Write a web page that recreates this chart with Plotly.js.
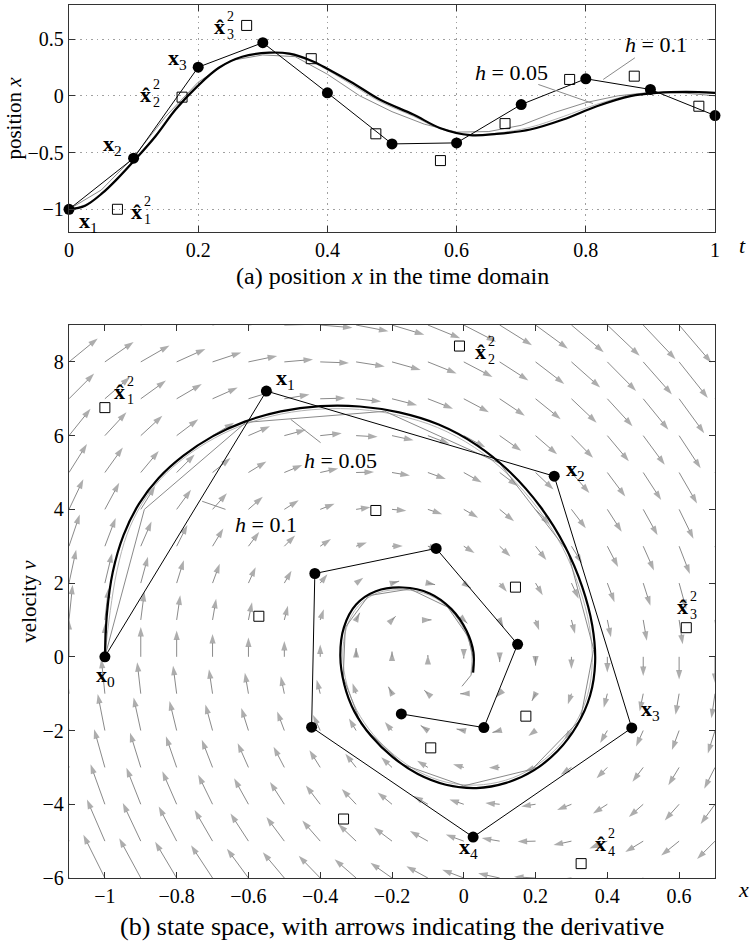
<!DOCTYPE html>
<html>
<head>
<meta charset="utf-8">
<script src="https://cdn.plot.ly/plotly-3.0.1.min.js"></script>
<style>
html, body { margin: 0; padding: 0; background: #fff; }
#chart { width: 750px; height: 944px; }
</style>
</head>
<body>
<div id="chart"></div>
<script>
// ---- coarse solution, step h = 0.1 (filled circles) ----
const tCoarse = [0, 0.1, 0.2, 0.3, 0.4, 0.5, 0.6, 0.7, 0.8, 0.9, 1.0];
const xCoarse = [-1.0, -0.55, 0.252, 0.468, 0.026, -0.424, -0.415, -0.077, 0.150, 0.056, -0.174];
const vCoarse = [0.0, 7.21, 4.90, -1.93, -4.89, -1.91, 2.26, 2.94, 0.34, -1.92, -1.55];

// ---- stage values x̂² (open squares) ----
const tStage = [0.075, 0.175, 0.275, 0.375, 0.475, 0.575, 0.675, 0.775, 0.875, 0.975];
const xStage = [-1.0, -0.012, 0.62, 0.327, -0.335, -0.571, -0.245, 0.144, 0.173, -0.092];
const vStage = [6.76, 8.43, 0.79, -5.61, -4.40, 1.10, 3.97, 1.89, -1.61, -2.47];

// ---- exact trajectory (thick black) ----
const tExact = [0, 0.025, 0.052, 0.075, 0.1, 0.134, 0.165, 0.199, 0.232, 0.268, 0.31, 0.341, 0.377, 0.402, 0.44,
                0.481, 0.533, 0.574, 0.621, 0.662, 0.714, 0.765, 0.817, 0.869, 0.91, 0.956, 1.0];
const xExact = [-1.0, -0.968, -0.856, -0.73, -0.577, -0.356, -0.121, 0.085, 0.247, 0.344, 0.38, 0.371, 0.305, 0.232, 0.11,
                -0.033, -0.165, -0.283, -0.347, -0.336, -0.297, -0.209, -0.092, -0.003, 0.026, 0.035, 0.026];
const xExactState = [-1.0, -0.994, -0.978, -0.948, -0.905, -0.850, -0.782, -0.700, -0.610, -0.510, -0.400, -0.290,
                     -0.180, -0.070, 0.035, 0.130, 0.215, 0.282, 0.330, 0.358, 0.366, 0.352, 0.316, 0.262, 0.195,
                     0.118, 0.035, -0.050, -0.128, -0.198, -0.258, -0.305, -0.333, -0.344, -0.334, -0.300,
                     -0.245, -0.170, -0.095, -0.035, 0.008, 0.027, 0.026];
const vExactState = [0.0, 1.2, 2.3, 3.3, 4.15, 4.85, 5.45, 5.98, 6.38, 6.66, 6.80, 6.79,
                     6.63, 6.30, 5.75, 5.00, 4.05, 3.00, 1.90, 0.85, -0.15, -1.05, -1.85, -2.55, -3.08,
                     -3.42, -3.56, -3.47, -3.18, -2.72, -2.15, -1.48, -0.75, 0.02, 0.80, 1.42,
                     1.78, 1.88, 1.72, 1.30, 0.70, 0.12, -0.43];

// ---- finer solution, step h = 0.05 (grey polyline) ----
const tFine = [0, 0.05, 0.1, 0.15, 0.2, 0.25, 0.3, 0.35, 0.4, 0.45, 0.5, 0.55, 0.6, 0.65, 0.7, 0.75, 0.8, 0.85, 0.9, 0.95, 1.0];
const xFine = [-1.0, -0.83, -0.54, -0.18, 0.12, 0.31, 0.36, 0.345, 0.19, 0.0, -0.14, -0.25, -0.32, -0.315, -0.26, -0.15,
               -0.06, 0.0, 0.03, 0.025, 0.0];
const xFineState = [-1.0, -0.89, -0.607, -0.22, 0.10, 0.29, 0.362, 0.325, 0.19, 0.0, -0.17, -0.285, -0.336, -0.33,
                    -0.265, -0.15, -0.045, 0.012, 0.028, 0.02, -0.005];
const vFineState = [0.0, 4.0, 6.36, 6.66, 5.25, 2.85, 0.2, -1.70, -3.05, -3.50, -2.92, -1.85, -0.55, 0.80, 1.66,
                    1.84, 1.35, 0.55, -0.1, -0.5, -0.8];

// ---- continuous interpolant (light grey) ----
const xInterp = [-1.0, -0.96, -0.85, -0.72, -0.565, -0.345, -0.11, 0.09, 0.25, 0.345, 0.375, 0.365, 0.295, 0.22, 0.09,
                 -0.05, -0.18, -0.29, -0.345, -0.33, -0.277, -0.183, -0.075, 0.005, 0.03, 0.033, 0.02];
const xInterpState = [-1.0, -0.985, -0.966, -0.938, -0.897, -0.843, -0.776, -0.695, -0.606, -0.507, -0.398, -0.290,
                      -0.182, -0.073, 0.030, 0.124, 0.208, 0.275, 0.322, 0.350, 0.358, 0.345, 0.310, 0.257, 0.191,
                      0.116, 0.034, -0.049, -0.125, -0.193, -0.252, -0.298, -0.326, -0.337, -0.327, -0.294,
                      -0.241, -0.168, -0.095, -0.037, 0.004, 0.022, 0.02];
const vInterpState = [0.0, 1.25, 2.35, 3.33, 4.15, 4.84, 5.42, 5.93, 6.32, 6.59, 6.72, 6.71,
                      6.55, 6.22, 5.68, 4.94, 4.00, 2.97, 1.88, 0.84, -0.15, -1.03, -1.82, -2.50, -3.02,
                      -3.35, -3.48, -3.40, -3.12, -2.67, -2.11, -1.45, -0.74, 0.02, 0.78, 1.38,
                      1.73, 1.82, 1.67, 1.27, 0.68, 0.11, -0.45];

// ---- derivative field of the damped spring, sampled on a grid ----
const xGrid = [-1.1, -1.0, -0.9, -0.8, -0.7, -0.6, -0.5, -0.4, -0.3, -0.2, -0.1, 0, 0.1, 0.2, 0.3, 0.4, 0.5, 0.6, 0.7];
const vGrid = [-6, -5, -4, -3, -2, -1, 0, 1, 2, 3, 4, 5, 6, 7, 8, 9];
const STIFFNESS = 95;     // spring constant
const DAMPING = 4.5;      // damping coefficient
const REST = -0.05;       // rest position
const ARROW_DT = 0.01;    // arrow length = derivative * ARROW_DT

function derivative(x, v) {
  return [v, -STIFFNESS * (x - REST) - DAMPING * v];
}

const arrowX = [], arrowY = [], arrowSize = [];
xGrid.forEach(function (x) {
  vGrid.forEach(function (v) {
    const d = derivative(x, v);
    arrowX.push(x, x + ARROW_DT * d[0], null);
    arrowY.push(v, v + ARROW_DT * d[1], null);
    arrowSize.push(0, 10, 0);
  });
});

const BLACK = '#000';
const GREY = '#8a8a8a';
const LIGHT = '#b4b4b4';
const FONT = 'Liberation Serif, serif';

const traces = [
  // --- (a) time domain ---
  { x: tExact, y: xInterp, xaxis: 'x', yaxis: 'y', mode: 'lines',
    line: { color: LIGHT, width: 1, shape: 'spline' }, hoverinfo: 'skip' },
  { x: tFine, y: xFine, xaxis: 'x', yaxis: 'y', mode: 'lines',
    line: { color: GREY, width: 1 }, hoverinfo: 'skip' },
  { x: tExact, y: xExact, xaxis: 'x', yaxis: 'y', mode: 'lines',
    line: { color: BLACK, width: 2.2, shape: 'spline' } },
  { x: tCoarse, y: xCoarse, xaxis: 'x', yaxis: 'y', mode: 'lines+markers', cliponaxis: false,
    line: { color: BLACK, width: 1 }, marker: { color: BLACK, size: 11 } },
  { x: tStage, y: xStage, xaxis: 'x', yaxis: 'y', mode: 'markers', cliponaxis: false,
    marker: { symbol: 'square-open', color: BLACK, size: 10, line: { width: 1 } } },

  // --- (b) state space ---
  { x: arrowX, y: arrowY, xaxis: 'x2', yaxis: 'y2', mode: 'lines+markers',
    line: { color: GREY, width: 1 },
    marker: { symbol: 'arrow', angleref: 'previous', size: arrowSize, color: GREY, line: { width: 0 } },
    hoverinfo: 'skip' },
  { x: xInterpState, y: vInterpState, xaxis: 'x2', yaxis: 'y2', mode: 'lines',
    line: { color: LIGHT, width: 1, shape: 'spline' }, hoverinfo: 'skip' },
  { x: xFineState, y: vFineState, xaxis: 'x2', yaxis: 'y2', mode: 'lines',
    line: { color: GREY, width: 1 }, hoverinfo: 'skip' },
  { x: xExactState, y: vExactState, xaxis: 'x2', yaxis: 'y2', mode: 'lines',
    line: { color: BLACK, width: 2.2, shape: 'spline' } },
  { x: xCoarse, y: vCoarse, xaxis: 'x2', yaxis: 'y2', mode: 'lines+markers', cliponaxis: false,
    line: { color: BLACK, width: 1 }, marker: { color: BLACK, size: 11 } },
  { x: xStage, y: vStage, xaxis: 'x2', yaxis: 'y2', mode: 'markers', cliponaxis: false,
    marker: { symbol: 'square-open', color: BLACK, size: 10, line: { width: 1 } } }
];

// point labels
const annotations = [];
function plainLabel(xr, yr, x, y, idx) {
  annotations.push({ xref: xr, yref: yr, x: x, y: y, xanchor: 'left', yanchor: 'middle',
    text: '<b>x</b><sub>' + idx + '</sub>', showarrow: false, font: { family: FONT, size: 22 } });
}
function hatLabel(xr, yr, x, y, idx) {
  annotations.push({ xref: xr, yref: yr, x: x, y: y, xanchor: 'left', yanchor: 'middle',
    text: '<b>x\u0302</b>', showarrow: false, font: { family: FONT, size: 22 } });
  annotations.push({ xref: xr, yref: yr, x: x, y: y, xanchor: 'left', yanchor: 'middle', xshift: 13, yshift: 1,
    text: '2<br>' + idx, align: 'left', showarrow: false, font: { family: FONT, size: 14 } });
}
plainLabel('x', 'y', 0.0128, -1.115, 1);
hatLabel('x', 'y', 0.093, -1.018, 1);
plainLabel('x', 'y', 0.050, -0.43, 2);
hatLabel('x', 'y', 0.107, 0.011, 2);
plainLabel('x', 'y', 0.150, 0.32, 3);
hatLabel('x', 'y', 0.221, 0.614, 3);

plainLabel('x2', 'y2', -1.031, -0.53, 0);
plainLabel('x2', 'y2', -0.530, 7.53, 1);
plainLabel('x2', 'y2', 0.279, 5.08, 2);
plainLabel('x2', 'y2', 0.488, -1.43, 3);
plainLabel('x2', 'y2', -0.020, -5.18, 4);
hatLabel('x2', 'y2', -0.979, 7.20, 1);
hatLabel('x2', 'y2', 0.025, 8.29, 2);
hatLabel('x2', 'y2', 0.588, 1.37, 3);
hatLabel('x2', 'y2', 0.36, -5.07, 4);

// step-size labels
function stepLabel(xr, yr, x, y, txt) {
  annotations.push({ xref: xr, yref: yr, x: x, y: y, xanchor: 'center', yanchor: 'middle',
    text: '<i>h</i> = ' + txt, showarrow: false, font: { family: FONT, size: 22 } });
}
stepLabel('x', 'y', 0.685, 0.203, '0.05');
stepLabel('x', 'y', 0.908, 0.453, '0.1');
stepLabel('x2', 'y2', -0.344, 5.33, '0.05');
stepLabel('x2', 'y2', -0.551, 3.59, '0.1');

// axis end letters and captions
annotations.push({ xref: 'paper', yref: 'paper', x: 1.042, y: 0.725, xanchor: 'center', yanchor: 'middle',
  text: '<i>t</i>', showarrow: false, font: { family: FONT, size: 22 } });
annotations.push({ xref: 'paper', yref: 'paper', x: 1.044, y: -0.0137, xanchor: 'center', yanchor: 'middle',
  text: '<i>x</i>', showarrow: false, font: { family: FONT, size: 22 } });
annotations.push({ xref: 'paper', yref: 'paper', x: 0.5, y: 0.6896, xanchor: 'center', yanchor: 'middle',
  text: '(a) position <i>x</i> in the time domain', showarrow: false, font: { family: FONT, size: 24 } });
annotations.push({ xref: 'paper', yref: 'paper', x: 0.5, y: -0.0556, xanchor: 'center', yanchor: 'middle',
  text: '(b) state space, with arrows indicating the derivative', showarrow: false, font: { family: FONT, size: 26 } });

// leader lines from the step-size labels
const shapes = [
  [ 'x', 'y', 0.7265, 0.0997, 0.8111, -0.068 ],
  [ 'x', 'y', 0.876, 0.335, 0.827, 0.144 ],
  [ 'x2', 'y2', -0.729, 4.22, -0.664, 4.0 ],
  [ 'x2', 'y2', -0.482, 6.44, -0.399, 5.81 ]
].map(function (s) {
  return { type: 'line', xref: s[0], yref: s[1], x0: s[2], y0: s[3], x1: s[4], y1: s[5],
    line: { color: GREY, width: 1 } };
});

const axisCommon = {
  ticks: 'inside', ticklen: 6, tickwidth: 1, tickcolor: '#333',
  showline: true, mirror: 'ticks', linecolor: '#333', linewidth: 1.3,
  zeroline: false, tickfont: { family: FONT, size: 20, color: BLACK }
};

const layout = {
  width: 750, height: 944,
  margin: { l: 69, r: 35, t: 5, b: 66 },
  paper_bgcolor: '#fff', plot_bgcolor: '#fff',
  showlegend: false,
  font: { family: FONT, size: 20, color: BLACK },
  xaxis: Object.assign({}, axisCommon, {
    domain: [0, 1], anchor: 'y', range: [0, 1],
    tickvals: [0, 0.2, 0.4, 0.6, 0.8, 1],
    showgrid: true, gridcolor: '#a0a0a0', griddash: '1.5px,4px', gridwidth: 1
  }),
  yaxis: Object.assign({}, axisCommon, {
    domain: [0.74, 1], anchor: 'x', range: [-1.2, 0.8],
    tickvals: [-1, -0.5, 0, 0.5],
    showgrid: true, gridcolor: '#a0a0a0', griddash: '1.5px,4px', gridwidth: 1,
    title: { text: 'position <i>x</i>', font: { family: FONT, size: 21 }, standoff: 0 }
  }),
  xaxis2: Object.assign({}, axisCommon, {
    domain: [0, 1], anchor: 'y2', range: [-1.1, 0.7],
    tickvals: [-1, -0.8, -0.6, -0.4, -0.2, 0, 0.2, 0.4, 0.6],
    showgrid: false
  }),
  yaxis2: Object.assign({}, axisCommon, {
    domain: [0, 0.6334], anchor: 'x2', range: [-6, 9],
    tickvals: [-6, -4, -2, 0, 2, 4, 6, 8],
    showgrid: false,
    title: { text: 'velocity <i>v</i>', font: { family: FONT, size: 21 }, standoff: 0 }
  }),
  annotations: annotations,
  shapes: shapes
};

Plotly.newPlot('chart', traces, layout, { displayModeBar: false, staticPlot: true });
</script>
</body>
</html>
